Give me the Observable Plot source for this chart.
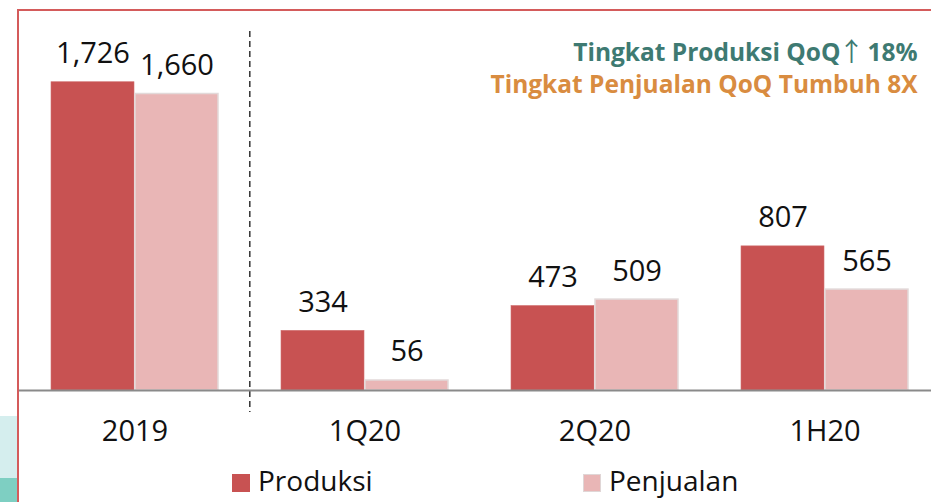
<!DOCTYPE html>
<html>
<head>
<meta charset="utf-8">
<script src="https://cdn.jsdelivr.net/npm/d3@7"></script>
<script src="https://cdn.jsdelivr.net/npm/@observablehq/plot@0.6"></script>
<style>
  html, body { margin: 0; padding: 0; background: #fff; }
  #wrap { position: relative; width: 931px; height: 502px; overflow: hidden; font-family: "Open Sans", sans-serif; }
  #chart { position: absolute; left: 0; top: 0; }
  .frame { position: absolute; left: 17px; top: 9px; width: 930px; height: 500px;
           border-top: 2px solid #d45b5b; border-left: 2px solid #d45b5b; pointer-events: none; }
  .teal1 { position: absolute; left: 0; top: 416px; width: 17px; height: 62px; background: #d5eeee; }
  .teal2 { position: absolute; left: 0; top: 478px; width: 17px; height: 24px; background: #7ecfc2; }
  .legend { position: absolute; top: 465px; left: 0; width: 931px; height: 30px; }
  .item { position: absolute; top: 0; display: flex; align-items: center; height: 30px; font-size: 28px; line-height: 28px; color: #111; }
  .sw { width: 18px; height: 18px; margin-right: 8px; margin-top: 6px; box-sizing: border-box; }
</style>
</head>
<body>
<div id="wrap">
  <div class="teal1"></div>
  <div class="teal2"></div>
  <div id="chart"></div>
  <div class="legend" id="legend"></div>
  <div class="frame"></div>
</div>
<script>
const periods = ["2019", "1Q20", "2Q20", "1H20"];
const produksi = [1726, 334, 473, 807];
const penjualan = [1660, 56, 509, 565];
const seriesNames = ["Produksi", "Penjualan"];
const seriesColors = ["#c85252", "#e9b6b6"];
const note1a = "Tingkat Produksi QoQ";
const note1arrow = "↑";
const note1b = "18%";
const note2 = "Tingkat Penjualan QoQ Tumbuh 8X";

const prodData = periods.map((p, i) => ({period: p, value: produksi[i]}));
const penjData = periods.map((p, i) => ({period: p, value: penjualan[i]}));
const fmt = d3.format(",");

const W = 931, H = 462;
const teal = "#3e7a72", orange = "#d98c40";
const plot = Plot.plot({
  width: W,
  height: H,
  marginLeft: 18,
  marginRight: 0,
  marginTop: 31,
  marginBottom: H - 390,
  style: {fontFamily: "Open Sans, sans-serif", fontSize: "29px", background: "transparent", color: "#111"},
  x: {domain: periods, paddingInner: 0.275, paddingOuter: 0.118, align: 0.588,
      tickSize: 0, tickPadding: 30, label: null},
  y: {domain: [0, 2010], axis: null},
  marks: [
    Plot.barY(prodData, {x: "period", y: "value", fill: seriesColors[0], insetRight: 84,
      stroke: "#d07070", strokeWidth: 0.6}),
    Plot.barY(penjData, {x: "period", y: "value", fill: seriesColors[1], insetLeft: 84,
      stroke: "#e2d9d9", strokeWidth: 1.5}),
    Plot.text(prodData, {x: "period", y: "value", text: d => fmt(d.value), dx: -42, dy: -19,
      lineAnchor: "bottom", fontSize: 29, fill: "#111"}),
    Plot.text(penjData, {x: "period", y: "value", text: d => fmt(d.value), dx: 42, dy: -19,
      lineAnchor: "bottom", fontSize: 29, fill: "#111"}),
    Plot.ruleX(["1Q20"], {x: d => d, dx: -115.2, stroke: "#333", strokeWidth: 1.5,
      strokeDasharray: "6,4", insetBottom: -22}),
    Plot.ruleY([0], {stroke: "#8a8a8a", strokeWidth: 2}),
    Plot.text([note1a], {frameAnchor: "top-right", text: d => d, dx: -91, dy: 12, lineAnchor: "top",
      textAnchor: "end", fontSize: 24.5, fontWeight: "bold", fill: teal}),
    Plot.text([note1arrow], {frameAnchor: "top-right", text: d => d, dx: -80, dy: 29, lineAnchor: "bottom",
      textAnchor: "middle", fontSize: 26, fontWeight: "normal", fontFamily: "Noto Sans CJK SC", fill: teal}),
    Plot.text([note1b], {frameAnchor: "top-right", text: d => d, dx: -14, dy: 12, lineAnchor: "top",
      textAnchor: "end", fontSize: 24.5, fontWeight: "bold", fill: teal}),
    Plot.text([note2], {frameAnchor: "top-right", text: d => d, dx: -14, dy: 44, lineAnchor: "top",
      textAnchor: "end", fontSize: 24.5, fontWeight: "bold", fill: orange})
  ]
});
document.getElementById("chart").appendChild(plot);

const legend = document.getElementById("legend");
const legendLeft = [232, 583];
seriesNames.forEach((name, i) => {
  const item = document.createElement("div");
  item.className = "item";
  item.style.left = legendLeft[i] + "px";
  const sw = document.createElement("div");
  sw.className = "sw";
  sw.style.background = seriesColors[i];
  if (i === 1) sw.style.border = "1.5px solid #e0d6d6";
  const label = document.createElement("span");
  label.textContent = name;
  item.appendChild(sw);
  item.appendChild(label);
  legend.appendChild(item);
});
</script>
</body>
</html>
